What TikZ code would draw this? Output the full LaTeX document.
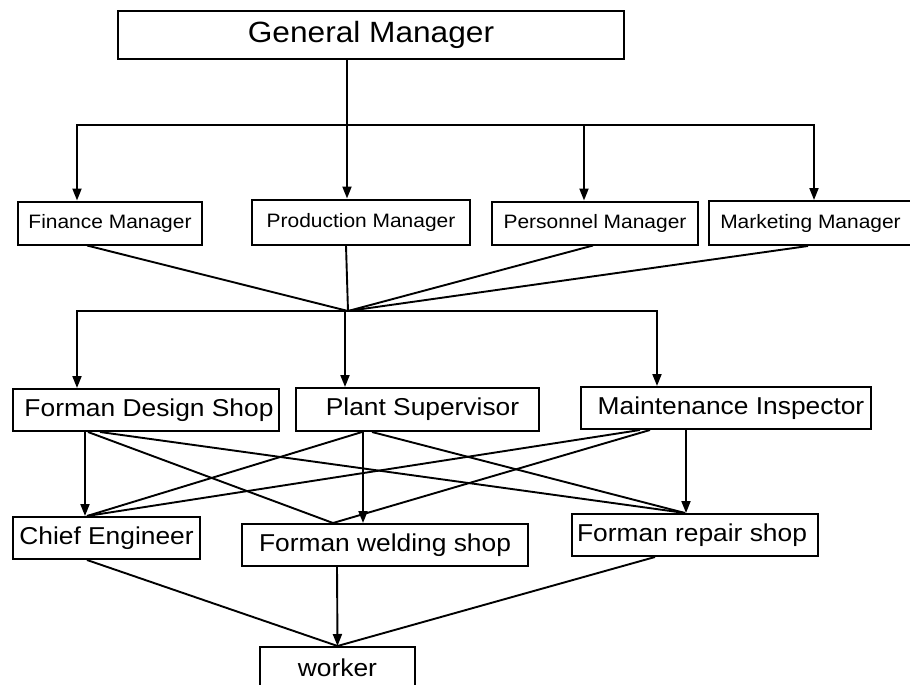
\documentclass[tikz,border=0pt]{standalone}
\usepackage{fontspec}
\setmainfont{Liberation Sans}[FakeStretch=1.08]
\usetikzlibrary{arrows.meta}
\tikzset{x=1pt,y=-1pt,
    box/.style={draw,line width=2pt,inner sep=0pt,align=center},
    link/.style={line width=1.9pt},
    arr/.style={link,-{Triangle[length=12pt,width=9pt]}},
    }
\newcommand{\toptext}{\fontsize{29.3}{34}\selectfont}
\newcommand{\mgrtext}{\fontsize{19.4}{23}\selectfont}
\newcommand{\shoptext}{\fontsize{24.4}{29}\selectfont}

\begin{document}
\begin{tikzpicture}
\useasboundingbox (0,0) rectangle (910,685);
\clip (0,0) rectangle (910,685);
\fill[white] (0,0) rectangle (910,685);

\node[box,minimum width=506pt,minimum height=48pt] (gm) at (371,35) {\toptext General Manager};
% managers
{\mgrtext
\node[box,minimum width=184pt,minimum height=43pt] (fin) at (110,223) {\raisebox{-2pt}{Finance Manager}};
\node[box,minimum width=218pt,minimum height=45pt] (prod) at (361,222) {\raisebox{-2pt}{Production Manager}};
\node[box,minimum width=206pt,minimum height=43pt] (pers) at (595,223) {\raisebox{-2pt}{Personnel Manager}};
\node[box,minimum width=203pt,minimum height=44pt] (mark) at (810.5,223) {\raisebox{-2pt}{Marketing Manager}};
}
% shops
{\shoptext
\node[box,minimum width=266pt,minimum height=42pt] (fds) at (146,410) {\hspace{6pt}Forman Design Shop};
\node[box,minimum width=243pt,minimum height=43pt] (ps) at (417.5,409.5) {\hspace{10pt}Plant Supervisor};
\node[box,minimum width=290pt,minimum height=42pt] (mi) at (726,408) {\hspace{10pt}Maintenance Inspector};
\node[box,minimum width=187pt,minimum height=42pt] (ce) at (106.5,538) {Chief Engineer};
\node[box,minimum width=286pt,minimum height=42pt] (fws) at (385,545) {Forman welding shop};
\node[box,minimum width=246pt,minimum height=42pt] (frs) at (695,535) {Forman repair shop\hspace{6pt}};
\node[box,minimum width=155pt,minimum height=42pt] (wk) at (337.5,668) {worker};
}

% general manager to managers
\coordinate (b1) at (347,125);
\draw[link] ([xshift=-24pt]gm.south) -- (b1);
\draw[arr] (b1) -| ([xshift=-33pt]fin.north);
\draw[arr] (b1) -- ([xshift=-14pt]prod.north);
\draw[arr] (b1) -| ([xshift=-11pt]pers.north);
\draw[arr] (b1) -| ([xshift=3.5pt]mark.north);

% managers meet in one point
\coordinate (c2) at (348,311);
\draw[link] ([xshift=-23pt]fin.south) -- (c2);
\draw[link] ([xshift=-15pt]prod.south) -- (c2);
\draw[link] ([xshift=-2pt]pers.south) -- (c2);
\draw[link] ([xshift=-2.5pt]mark.south) -- (c2);
\draw[arr] (c2) -| ([xshift=-69pt]fds.north);
\draw[arr] (c2) -| ([xshift=-72.5pt]ps.north);
\draw[arr] (c2) -| ([xshift=-69pt]mi.north);

% shops crossing
\draw[arr] ([xshift=-61pt]fds.south) -- ([xshift=-21.5pt]ce.north);
\draw[link] ([xshift=-58pt]fds.south) -- ([xshift=-52pt]fws.north);
\draw[link] ([xshift=-46pt]fds.south) -- ([xshift=-10pt]frs.north);
\draw[link] ([xshift=-55.5pt]ps.south) -- ([xshift=-19.5pt]ce.north);
\draw[arr] ([xshift=-54.5pt]ps.south) -- ([xshift=-22pt]fws.north);
\draw[link] ([xshift=-45.5pt]ps.south) -- ([xshift=-10pt]frs.north);
\draw[link] ([xshift=-86pt]mi.south) -- ([xshift=-19.5pt]ce.north);
\draw[link] ([xshift=-76pt]mi.south) -- ([xshift=-52pt]fws.north);
\draw[arr] ([xshift=-40pt]mi.south) -- ([xshift=-9pt]frs.north);

% down to worker
\draw[link] ([xshift=-19.5pt]ce.south) -- (wk.north);
\draw[arr] ([xshift=-48pt]fws.south) -- (wk.north);
\draw[link] ([xshift=-40pt]frs.south) -- (wk.north);
\end{tikzpicture}
\end{document}
